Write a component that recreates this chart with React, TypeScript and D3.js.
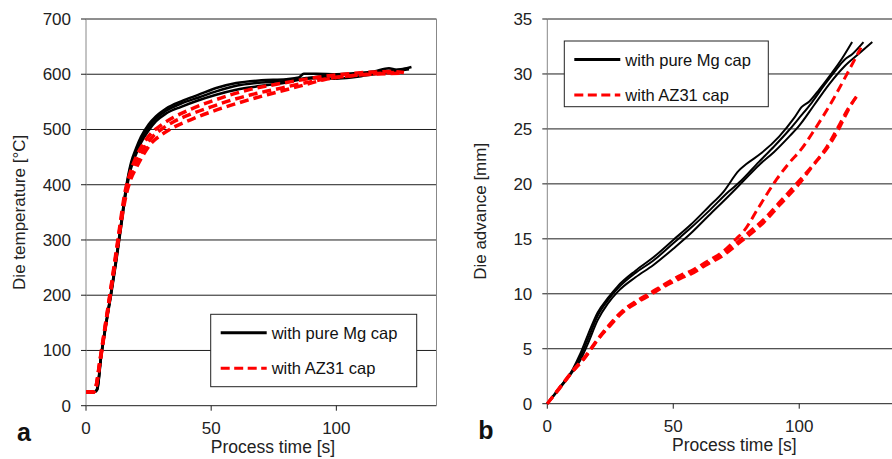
import React from 'react';
import * as d3 from 'd3';

// Die temperature (a) and die advance (b) vs process time, pure Mg cap vs AZ31 cap

type Pt = [number, number];

// (a) temperature [°C] over process time [s]
const tempMg1: Pt[] = [[0, 25], [3.5, 25], [4.5, 32], [6, 90], [8, 150], [10, 205], [12, 265], [14, 330], [16, 395], [18, 440], [20, 466], [22, 487], [25, 509], [28, 524], [32, 538], [38, 551], [45, 563], [52, 575], [60, 584], [70, 589], [80, 591], [85, 594], [87, 601], [92, 601], [100, 600], [108, 602], [115, 605], [121, 611], [124, 608], [130, 613]];
const tempMg2: Pt[] = [[0, 25], [3.5, 25], [4.5, 30], [6, 88], [8, 148], [10, 203], [12, 262], [14, 327], [16, 391], [18, 436], [20, 461], [22, 482], [25, 504], [28, 520], [32, 534], [38, 547], [45, 558], [52, 569], [60, 579], [70, 585], [80, 588], [88, 593], [95, 597], [102, 600], [110, 601], [118, 605], [125, 608], [129, 611]];
const tempMg3: Pt[] = [[0, 25], [3.5, 25], [4.5, 29], [6, 86], [8, 146], [10, 200], [12, 259], [14, 323], [16, 387], [18, 430], [20, 455], [22, 476], [25, 498], [28, 515], [32, 529], [38, 541], [45, 553], [52, 563], [60, 572], [70, 579], [80, 585], [88, 592], [95, 593], [100, 592], [106, 594], [112, 598], [120, 603], [126, 607], [129, 609]];
const tempAz1: Pt[] = [[0, 25], [3, 25], [4, 35], [5.5, 80], [7.5, 140], [9.5, 200], [11.5, 262], [13.5, 325], [15.5, 385], [17.5, 420], [20, 450], [23, 475], [26, 493], [30, 508], [35, 522], [42, 537], [50, 551], [58, 563], [66, 573], [75, 581], [85, 589], [95, 596], [105, 601], [115, 604], [122, 605], [127, 603]];
const tempAz2: Pt[] = [[0, 25], [3, 25], [4, 34], [5.5, 78], [7.5, 138], [9.5, 198], [11.5, 258], [13.5, 320], [15.5, 378], [17.5, 412], [20, 440], [23, 465], [26, 484], [30, 500], [35, 514], [42, 528], [50, 541], [58, 553], [66, 563], [75, 572], [85, 582], [95, 591], [105, 597], [115, 601], [123, 603]];
const tempAz3: Pt[] = [[0, 25], [3, 25], [4, 33], [5.5, 76], [7.5, 135], [9.5, 195], [11.5, 254], [13.5, 315], [15.5, 370], [17.5, 405], [20, 430], [23, 455], [26, 475], [30, 490], [35, 504], [42, 518], [50, 532], [58, 544], [66, 555], [75, 566], [85, 578], [95, 590], [105, 597], [115, 600], [126, 602]];

// (b) die advance [mm] over process time [s]
const advMg1: Pt[] = [[0, 0], [5, 1.5], [10, 3.1], [13, 4.5], [16, 6.2], [20, 8.3], [24, 9.6], [28, 10.7], [35, 12.1], [42, 13.3], [50, 14.9], [57, 16.3], [64, 17.9], [70, 19.3], [76, 21.2], [79, 21.8], [85, 22.8], [92, 24.3], [98, 26], [101, 27], [104, 27.5], [108, 28.6], [113, 30.1], [117, 31.4], [121, 32.9]];
const advMg2: Pt[] = [[0, 0], [5, 1.5], [10, 3], [13, 4.2], [16, 5.8], [20, 8], [24, 9.4], [28, 10.5], [35, 11.9], [42, 13], [50, 14.6], [57, 16], [64, 17.5], [72, 19.3], [77, 20.3], [84, 22], [90, 23.4], [96, 24.9], [100, 26], [105, 27.4], [110, 29], [114, 30.2], [118, 31.3], [121, 31.8], [125.5, 32.9]];
const advMg3: Pt[] = [[0, 0], [5, 1.4], [10, 2.9], [13, 3.9], [16, 5.4], [20, 7.6], [24, 9.1], [28, 10.2], [35, 11.5], [42, 12.6], [50, 14.1], [57, 15.5], [64, 17.1], [72, 18.9], [78, 20.3], [84, 21.7], [90, 22.9], [96, 24.3], [100, 25.3], [106, 27.2], [112, 29.1], [118, 30.7], [124, 31.9], [129, 32.9]];
const advAz1: Pt[] = [[0, 0], [5, 1.5], [10, 3], [15, 4.3], [20, 5.9], [25, 7.3], [30, 8.5], [35, 9.3], [41, 10.1], [46, 10.8], [53, 11.7], [58, 12.2], [63, 12.9], [70, 13.9], [75, 15], [78, 15.7], [84, 17.9], [91, 20.4], [96, 21.9], [101, 23.2], [106, 24.9], [113.5, 27.7], [118.5, 29.8], [122, 31.3], [124.5, 32.4]];
const advAz2: Pt[] = [[0, 0], [5, 1.5], [10, 2.9], [15, 4.2], [20, 5.8], [25, 7.2], [30, 8.4], [35, 9.2], [41, 10], [46, 10.7], [53, 11.5], [58, 12], [63, 12.7], [70, 13.7], [75, 14.6], [80, 15.6], [86, 16.8], [92, 18.3], [100, 20.3], [105, 21.6], [111, 23.4], [115.5, 25.2], [119, 26.7], [123, 28]];
const advAz3: Pt[] = [[0, 0], [5, 1.4], [10, 2.9], [15, 4.2], [20, 5.8], [25, 7.1], [30, 8.3], [35, 9.1], [41, 9.9], [46, 10.6], [53, 11.4], [58, 11.9], [63, 12.6], [70, 13.5], [75, 14.4], [80, 15.3], [86, 16.5], [92, 18], [100, 20], [106, 21.8], [111, 23.2], [116, 25.1], [119, 26.5], [122.5, 27.9]];

const xTicks = [0, 50, 100];
const tempTicks = [0, 100, 200, 300, 400, 500, 600, 700];
const advTicks = [0, 5, 10, 15, 20, 25, 30, 35];
const legendLabels = ['with pure Mg cap', 'with AZ31 cap'];

const FONT = '"Liberation Sans", Arial, sans-serif';
const RED = '#ff0000';

const Panel = ({ x, y, ticks, mg, az, letter, yTitle, legendPos, rightEdge, mgWidth, azWidth }) => {
  const [x0, x1] = x.range();
  const [y0, y1] = y.range();
  const line = d3.line<Pt>().x(d => x(d[0])).y(d => y(d[1])).curve(d3.curveMonotoneX);
  const midY = (y0 + y1) / 2;
  const [lx, ly, lw, lh] = legendPos;
  return (
    <g>
      {ticks.map(t => (
        <line key={'g' + t} x1={x0} x2={x1} y1={y(t)} y2={y(t)} stroke="#1e1e1e" strokeWidth={1} />
      ))}
      <line x1={x0} x2={x0} y1={y1} y2={y0} stroke="#888" strokeWidth={1} />
      {rightEdge && <line x1={x1} x2={x1} y1={y1} y2={y0} stroke="#888" strokeWidth={1} />}
      {ticks.map(t => (
        <g key={'t' + t}>
          <line x1={x0 - 5} x2={x0} y1={y(t)} y2={y(t)} stroke="#1e1e1e" />
          <text x={x0 - 15} y={y(t) + 6} textAnchor="end" fontSize={17} fill="#222">{t}</text>
        </g>
      ))}
      {xTicks.map(t => (
        <g key={'x' + t}>
          <line x1={x(t)} x2={x(t)} y1={y0} y2={y0 + 5} stroke="#1e1e1e" />
          <text x={x(t)} y={y0 + 28} textAnchor="middle" fontSize={17} fill="#222">{t}</text>
        </g>
      ))}
      {mg.map((s, i) => (
        <path key={'m' + i} d={line(s)} fill="none" stroke="#000" strokeWidth={mgWidth} />
      ))}
      {az.map((s, i) => (
        <path key={'a' + i} d={line(s)} fill="none" stroke={RED} strokeWidth={azWidth} strokeDasharray="9,5" />
      ))}
      <text x={x0 + 187} y={y0 + 47} textAnchor="middle" fontSize={17.5} fill="#222">Process time [s]</text>
      <text transform={`translate(${x0 - 61},${midY}) rotate(-90)`} textAnchor="middle" fontSize={17} fill="#222">{yTitle}</text>
      <text x={x0 - 69} y={y0 + 35} fontSize={25} fontWeight="bold" fill="#111">{letter}</text>
      <rect x={lx} y={ly} width={lw} height={lh} fill="#fff" stroke="#222" strokeWidth={1} />
      <line x1={lx + 10} x2={lx + 56} y1={ly + 18.5} y2={ly + 18.5} stroke="#000" strokeWidth={3} />
      <line x1={lx + 10} x2={lx + 56} y1={ly + 54} y2={ly + 54} stroke={RED} strokeWidth={3} strokeDasharray="9,4.5" />
      <text x={lx + 61} y={ly + 24.5} fontSize={16.5} fill="#111">{legendLabels[0]}</text>
      <text x={lx + 61} y={ly + 60} fontSize={16.5} fill="#111">{legendLabels[1]}</text>
    </g>
  );
};

export default function App() {
  const xL = d3.scaleLinear().domain([0, 140]).range([86, 436.5]);
  const yL = d3.scaleLinear().domain([0, 700]).range([405.7, 19]);
  const xR = d3.scaleLinear().domain([0, 140]).range([547.3, 900]);
  const yR = d3.scaleLinear().domain([0, 35]).range([403.7, 19]);

  return (
    <svg
      width={892}
      height={459}
      style={{ position: 'absolute', left: 0, top: 0, background: '#fff', fontFamily: FONT }}
    >
      <rect width={892} height={459} fill="#fff" />
      <Panel
        x={xL}
        y={yL}
        ticks={tempTicks}
        mg={[tempMg1, tempMg2, tempMg3]}
        az={[tempAz1, tempAz2, tempAz3]}
        letter="a"
        yTitle="Die temperature [°C]"
        legendPos={[210.7, 314.3, 206, 72.4]}
        rightEdge
        mgWidth={2.5}
        azWidth={3.5}
      />
      <Panel
        x={xR}
        y={yR}
        ticks={advTicks}
        mg={[advMg1, advMg2, advMg3]}
        az={[advAz1, advAz2, advAz3]}
        letter="b"
        yTitle="Die advance [mm]"
        legendPos={[564.3, 41, 204, 65.7]}
        rightEdge={false}
        mgWidth={2}
        azWidth={3}
      />
    </svg>
  );
}
